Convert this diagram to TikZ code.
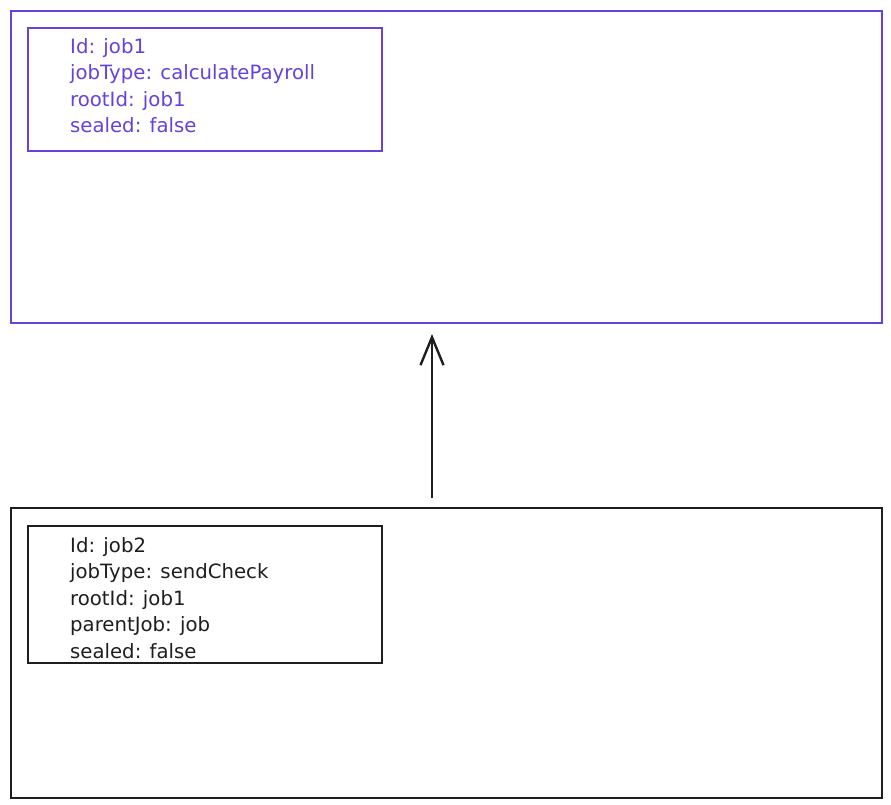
\documentclass[tikz,border=0pt]{standalone}
\usepackage{fontspec}
\setmainfont{DejaVu Sans}
\usetikzlibrary{positioning, arrows.meta}
\definecolor{jobviolet}{HTML}{6741D9}
\definecolor{jobink}{HTML}{1E1E1E}

\tikzset{
    outerbox/.style={draw, line width=2pt, minimum width=871pt, inner sep=0pt, anchor=north west},
    innerbox/.style={draw, line width=2pt, minimum width=354pt, inner sep=0pt, anchor=north west},
    fields/.style={align=left, inner sep=0pt, anchor=north west, font=\fontsize{19.7}{26.5}\selectfont}
}

\begin{document}
\begin{tikzpicture}[x=1pt, y=-1pt]
    \useasboundingbox (0,0) rectangle (891,805);
    % root job
    \node[outerbox, jobviolet, minimum height=312pt] (root) at (10,10) {};
    \node[innerbox, jobviolet, minimum height=123pt] (rootinfo) at (27,27) {};
    \node[fields, text=jobviolet] (rootfields) at (70,38) {Id: job1\\jobType: calculatePayroll\\rootId: job1\\sealed: false};
    % child job
    \node[outerbox, jobink, minimum height=290pt] (child) at (10,507) {};
    \node[innerbox, jobink, minimum height=137pt] (childinfo) at (27,525) {};
    \node[fields, text=jobink] (childfields) at (70,537) {Id: job2\\jobType: sendCheck\\rootId: job1\\parentJob: job\\sealed: false};
    % link
    \draw[jobink, line width=2.4pt, -{Straight Barb[length=28pt, width=23pt, line width=2.4pt]}] ([xshift=-14.5pt, yshift=9pt]child.north) -- ([xshift=-14.5pt, yshift=-10pt]root.south);
\end{tikzpicture}
\end{document}
